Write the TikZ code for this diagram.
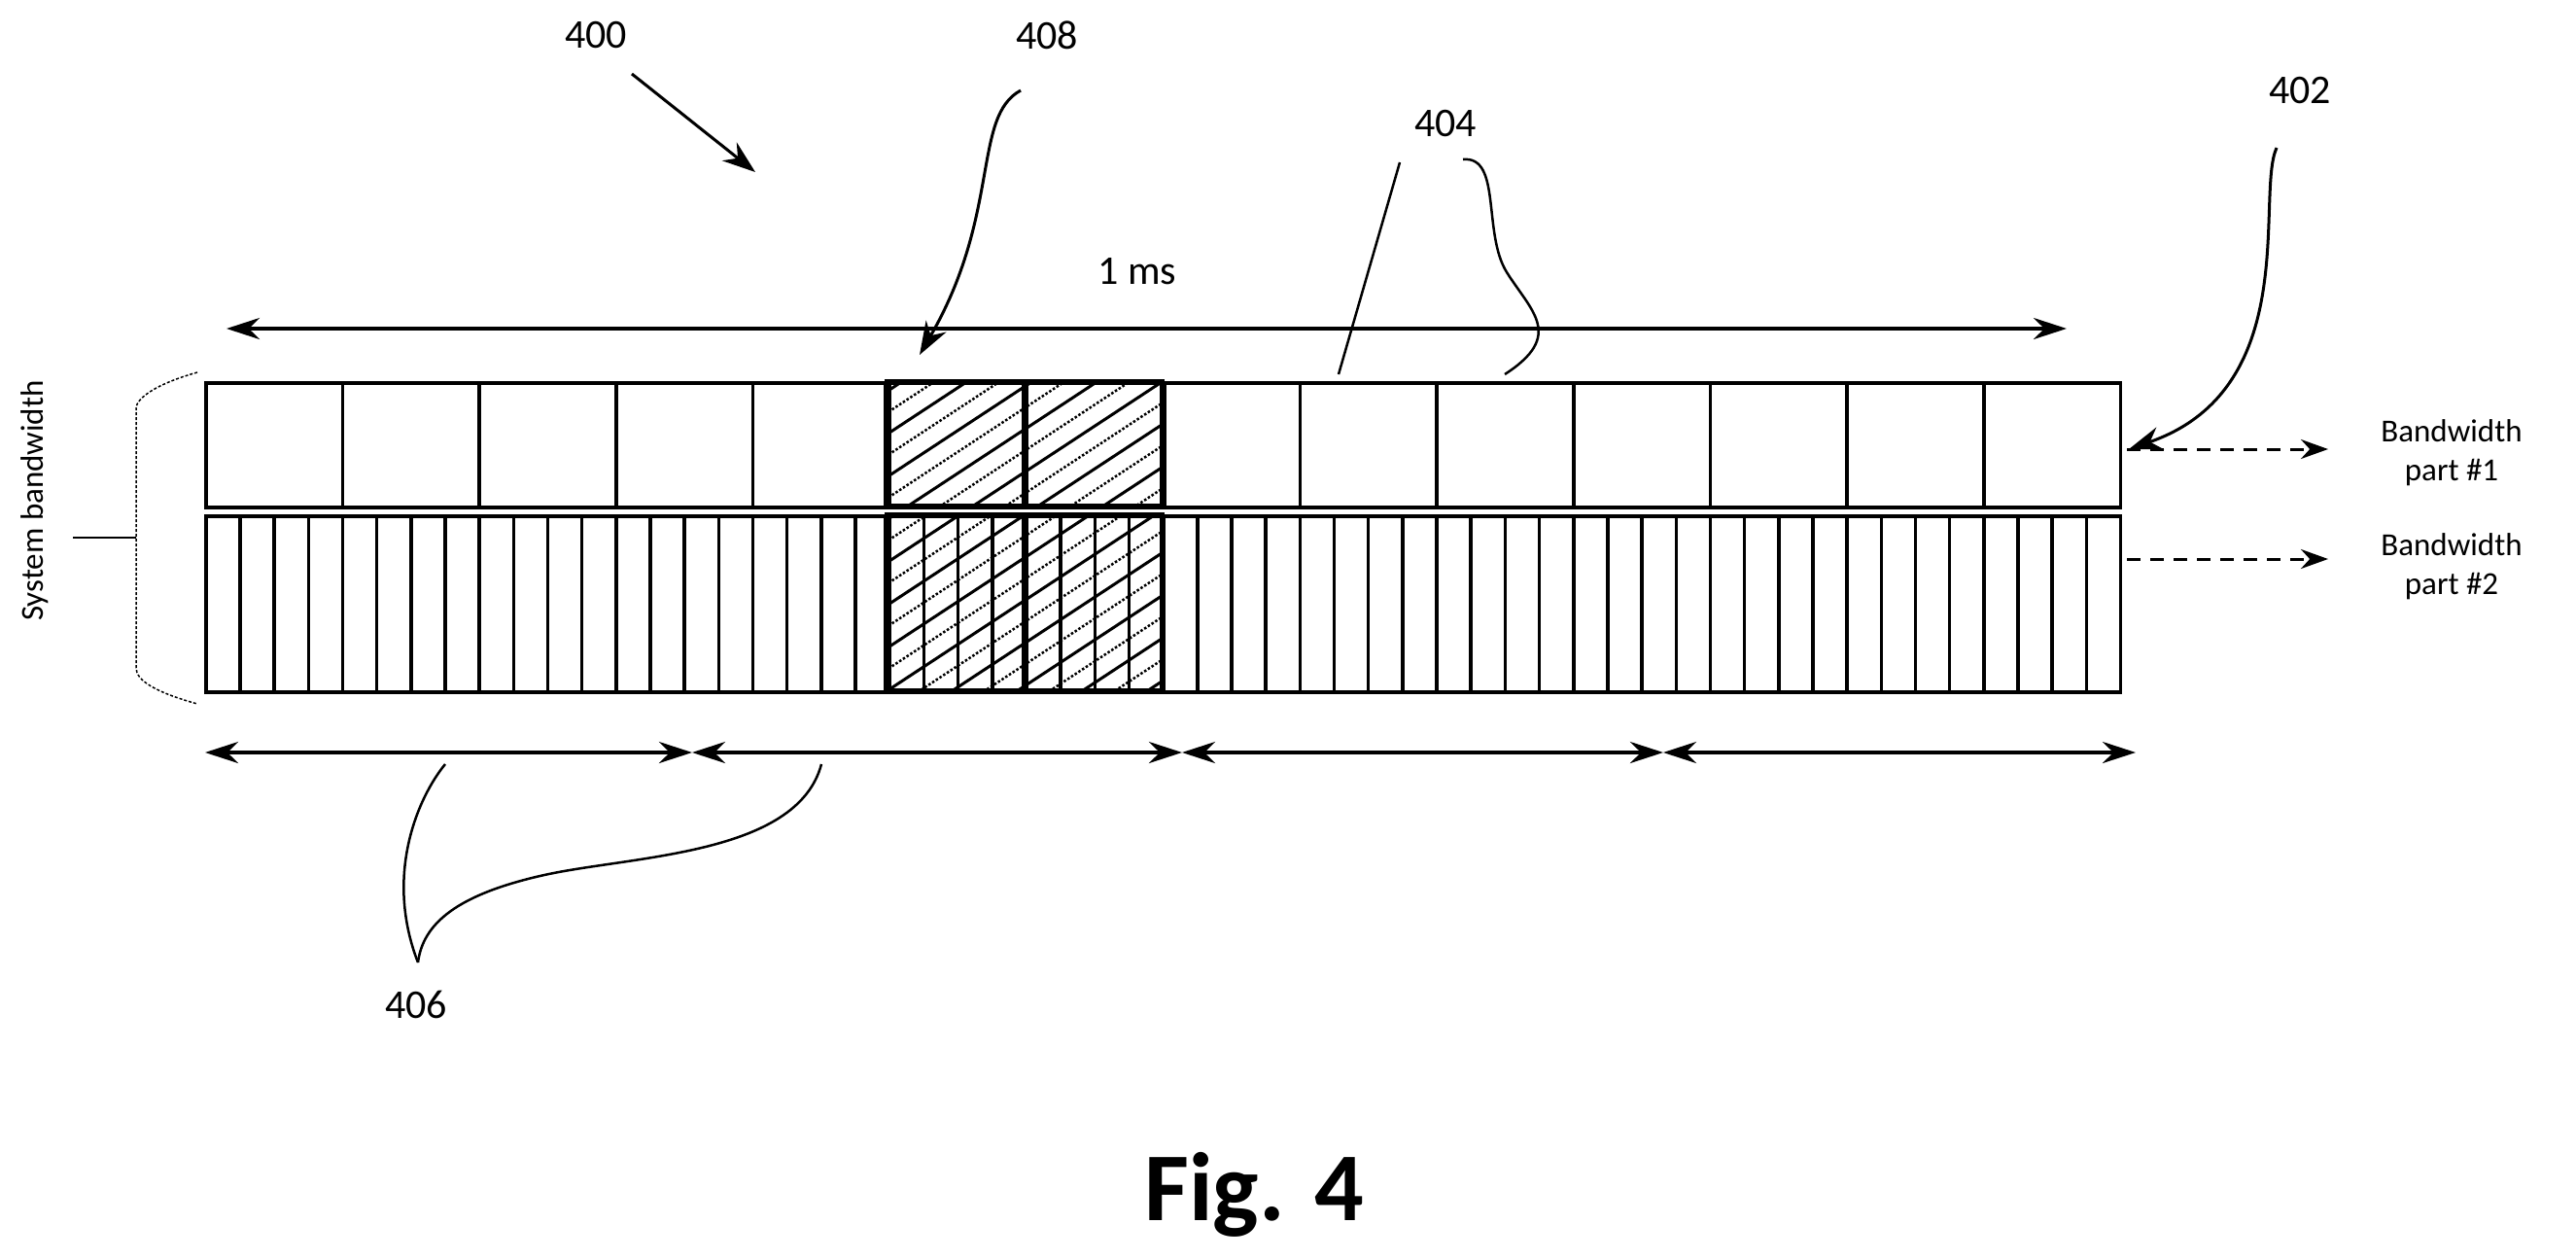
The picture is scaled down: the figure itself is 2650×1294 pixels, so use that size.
\documentclass[tikz,border=0pt]{standalone}
\usepackage{fontspec}
\setmainfont{Carlito}
\usetikzlibrary{arrows.meta}
\begin{document}
\begin{tikzpicture}[x=1pt,y=-1pt,
  cell/.style={line width=3.5pt},
  dim/.style={line width=3.5pt,{Stealth[length=34pt,width=22pt]}-{Stealth[length=34pt,width=22pt]}},
  lead/.style={line width=2.5pt},
  ptr/.style={line width=3pt,-{Stealth[length=34pt,width=24pt]}},
  dsh/.style={line width=3pt,dash pattern=on 14pt off 10pt,-{Stealth[length=28pt,width=20pt]}},
  num/.style={font=\fontsize{42}{46}\selectfont},
  small/.style={font=\fontsize{33}{40}\selectfont,align=center}]
\useasboundingbox (0,0) rectangle (2650,1294);
\def\W{140.7}
% hatching
\begin{scope}
\clip (912,392) rectangle (1196,520) (912,529) rectangle (1196,710);
\foreach \k in {0,...,40}{
  \draw[line width=3pt] (880,{380+44*\k}) -- (1230,{380+44*\k-230});
  \draw[line width=2.5pt,dotted] (880,{402+44*\k}) -- (1230,{402+44*\k-230});
}
\end{scope}
% top row
\foreach \i in {0,...,13}{
  \node[draw,cell,minimum width=\W pt,minimum height=128pt,inner sep=0pt,anchor=north west] (t\i) at ({210+\i*\W},392) {};
}
% bottom row
\foreach \i in {0,...,55}{
  \node[draw,cell,minimum width={\W/4 pt},minimum height=181pt,inner sep=0pt,anchor=north west] (b\i) at ({210+\i*\W/4},529) {};
}
\draw[line width=7pt] (912,392) -- (912,520) (1054,392) -- (1054,520) (1196,392) -- (1196,520);
\draw[line width=6pt] (912,529) -- (912,710) (1054,529) -- (1054,710) (1196,529) -- (1196,710);
\draw[line width=4.5pt] (912,392) rectangle (1196,520) (912,529) rectangle (1196,710);
% 1 ms
\coordinate (m1) at (233,338); \coordinate (m2) at (2126,338);
\draw[dim] (m1) -- (m2);
\node[num] (ms) at (1170,279) {1 ms};
% lower arrows
\coordinate (a0) at (211,774); \coordinate (a1) at (712,774); \coordinate (a2) at (1216,774);
\coordinate (a3) at (1711,774); \coordinate (a4) at (2197,774);
\draw[dim] (a0) -- (a1); \draw[dim] (a1) -- (a2); \draw[dim] (a2) -- (a3); \draw[dim] (a3) -- (a4);
% labels
\node[num] (l400) at (613,36) {400};
\coordinate (p400a) at (650,76); \coordinate (p400b) at (777,177);
\draw[ptr] (p400a) -- (p400b);
\node[num] (l408) at (1077,36) {408};
\coordinate (p408a) at (1050,93); \coordinate (p408b) at (946,365);
\draw[ptr] (p408a) .. controls (1000,120) and (1030,220) .. (p408b);
\node[num] (l404) at (1487,127) {404};
\coordinate (p404a) at (1440,167); \coordinate (p404b) at (1377,385);
\draw[lead] (p404a) -- (p404b);
\coordinate (p404c) at (1505,164); \coordinate (p404d) at (1548,385);
\draw[lead] (p404c) .. controls (1545,160) and (1525,240) .. (1550,280) .. controls (1575,320) and (1610,345) .. (p404d);
\node[num] (l402) at (2366,93) {402};
\coordinate (p402a) at (2342,152); \coordinate (p402b) at (2190,462);
\draw[ptr] (p402a) .. controls (2320,200) and (2370,400) .. (p402b);
\coordinate (d1a) at (2188,462); \coordinate (d1b) at (2395,462);
\coordinate (d2a) at (2188,575); \coordinate (d2b) at (2395,575);
\draw[dsh] (d1a) -- (d1b); \draw[dsh] (d2a) -- (d2b);
\node[small] (bp1) at (2522,466) {Bandwidth\\part \#1};
\node[small] (bp2) at (2522,583) {Bandwidth\\part \#2};
\node[num] (l406) at (428,1033) {406};
\coordinate (q1) at (458,786); \coordinate (q2) at (845,786); \coordinate (q3) at (430,990);
\draw[lead] (q1) .. controls (430,820) and (395,900) .. (q3);
\draw[lead] (q2) .. controls (820,880) and (650,880) .. (560,900) .. controls (470,920) and (435,950) .. (q3);
% system bandwidth
\node[small,rotate=90] (sb) at (36,515) {System bandwidth};
\coordinate (br1) at (203,383); \coordinate (br2) at (203,724); \coordinate (brm) at (140,553);
\draw[line width=1.5pt,densely dashed] (br1) .. controls (160,395) and (140,410) .. (140,420) -- (140,687) .. controls (140,700) and (160,712) .. (br2);
\coordinate (sl) at (75,553);
\draw[line width=1.5pt] (sl) -- (brm);
\node[font=\bfseries\fontsize{100}{110}\selectfont] (fig) at (1290,1229) {Fig. 4};
\end{tikzpicture}
\end{document}
